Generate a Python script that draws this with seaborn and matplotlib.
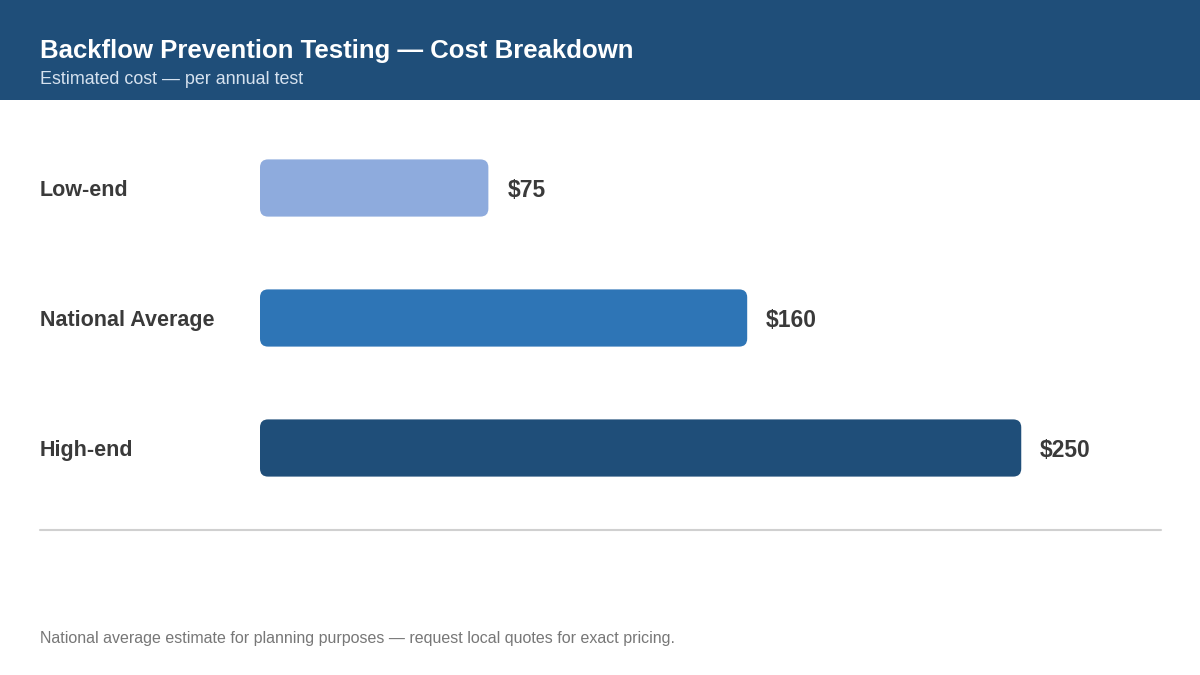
import matplotlib
matplotlib.use("Agg")
import matplotlib.pyplot as plt
import matplotlib.transforms as mtransforms
from matplotlib.patches import FancyBboxPatch, Rectangle
from matplotlib.lines import Line2D
import pandas as pd
import seaborn as sns

# Chart data
categories = ["Low-end", "National Average", "High-end"]
costs = [75, 160, 250]
bar_colors = ["#8eabdd", "#2e75b6", "#1f4e79"]

title = "Backflow Prevention Testing \u2014 Cost Breakdown"
subtitle = "Estimated cost \u2014 per annual test"
footnote = "National average estimate for planning purposes \u2014 request local quotes for exact pricing."

sns.set_theme(style="white")
plt.rcParams["font.family"] = ["Liberation Sans", "DejaVu Sans"]

df = pd.DataFrame({"category": categories, "cost": costs})

W, H = 1200, 675
fig = plt.figure(figsize=(12, 6.75), dpi=100)
fig.patch.set_facecolor("white")

# Header band
fig.patches.append(Rectangle((0, 1 - 100 / H), 1, 100 / H, transform=fig.transFigure,
                             facecolor="#1f4e79", edgecolor="none", zorder=0))
fig.text(40 / W, 1 - 51 / H, title, color="white", fontsize=18.5, fontweight="bold",
         va="center", ha="left")
fig.text(40 / W, 1 - 80 / H, subtitle, color="#d6e2ef", fontsize=12.9,
         va="center", ha="left")

# Bar area
ax = fig.add_axes([260 / W, 1 - 513 / H, 900 / W, 390 / H])
sns.barplot(data=df, x="cost", y="category", hue="category", palette=bar_colors,
            order=categories, hue_order=categories, orient="h", width=0.44,
            saturation=1, legend=False, ax=ax)
ax.set_xlim(0, 900 / 3.045)
ax.set_ylim(2.5, -0.5)

# swap plain rectangles for rounded ones
px_x = ax.get_xlim()[1] / 900
px_y = 3 / 390
for bar in list(ax.patches):
    x, y = bar.get_x(), bar.get_y()
    w, h = bar.get_width(), bar.get_height()
    rounded = FancyBboxPatch((x, y), w, h,
                             boxstyle=f"round,pad=0,rounding_size={8 * px_x}",
                             mutation_aspect=px_y / px_x,
                             facecolor=bar.get_facecolor(), edgecolor="none")
    bar.remove()
    ax.add_patch(rounded)

for i, v in enumerate(costs):
    ax.annotate(f"${v}", xy=(v, i), xytext=(19, -2), textcoords="offset pixels",
                va="center", ha="left", fontsize=16.5, fontweight="bold", color="#3a3a3a")

label_tr = mtransforms.blended_transform_factory(fig.transFigure, ax.transData)
label_tr = label_tr + mtransforms.ScaledTranslation(0, -2 / 100, fig.dpi_scale_trans)
for i, cat in enumerate(categories):
    ax.text(40 / W, i, cat, transform=label_tr, va="center", ha="left",
            fontsize=15.5, fontweight="bold", color="#3a3a3a")

ax.set_xlabel("")
ax.set_ylabel("")
ax.set_xticks([])
ax.set_yticks([])
sns.despine(ax=ax, left=True, bottom=True)
ax.patch.set_alpha(0)

# Divider and footnote
fig.lines.append(Line2D([40 / W, 1161 / W], [1 - 530 / H, 1 - 530 / H],
                        transform=fig.transFigure, color="#d0d0d0", linewidth=1.5))
fig.text(40 / W, 1 - 639 / H, footnote, color="#777777", fontsize=11.5,
         va="center", ha="left")

fig.savefig("out.png", dpi=100)
